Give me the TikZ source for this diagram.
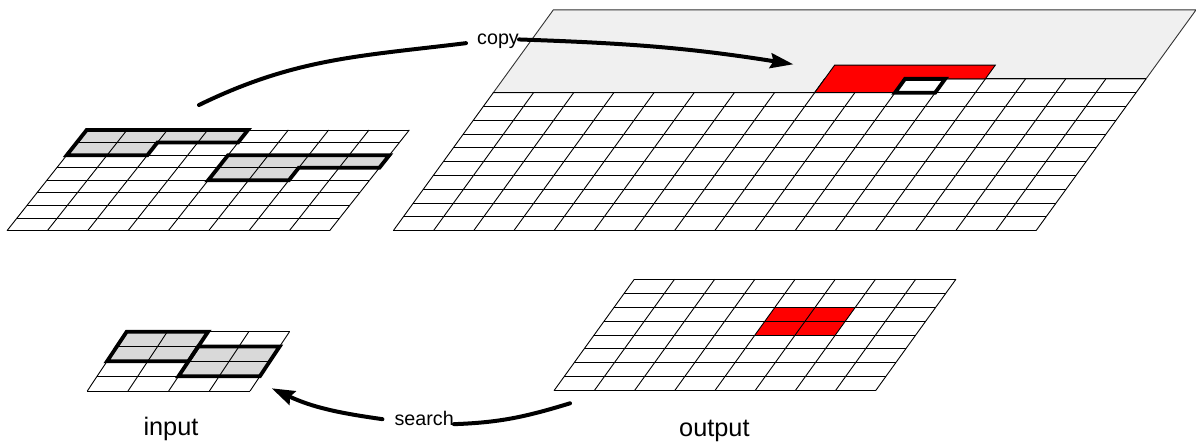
\documentclass[tikz,border=0pt]{standalone}
\usepackage{fontspec}
\setmainfont{Liberation Sans}
\usetikzlibrary{arrows.meta}
\definecolor{cellgray}{RGB}{217,217,217}
\definecolor{pending}{RGB}{240,240,240}
\definecolor{hot}{RGB}{255,0,0}
\tikzset{
  gridline/.style={line width=0.9pt},
  outline/.style={line width=3.8pt, line join=miter},
  flowline/.style={line width=4pt, line cap=round},
  flow/.style={flowline, -{Stealth[length=23pt,width=15pt,inset=3pt]}},
  small/.style={font=\fontsize{19.7}{23}\selectfont, inner sep=0pt},
  big/.style={font=\fontsize{25.3}{30}\selectfont, inner sep=0pt},
}
\begin{document}
\begin{tikzpicture}[x=1pt,y=1pt]
\useasboundingbox (0,0) rectangle (1196,-443);

% enlarged input texture, 8x8 cells, with two neighbourhoods
\begin{scope}[shift={(7,-230.7)}, x={(40.33pt,0pt)}, y={(9.96pt,12.59pt)}]
  \fill[cellgray] (0,8) -- (4,8) -- (4,7) -- (2,7) -- (2,6) -- (0,6) -- cycle;
  \fill[cellgray] (4,6) -- (8,6) -- (8,5) -- (6,5) -- (6,4) -- (4,4) -- cycle;
  \foreach \k in {0,...,8} \draw[gridline] (0,\k) -- (8,\k);
  \foreach \c in {0,...,8} \draw[gridline] (\c,0) -- (\c,8);
  \draw[outline] (0,8) -- (4,8) -- (4,7) -- (2,7) -- (2,6) -- (0,6) -- cycle;
  \draw[outline] (4,6) -- (8,6) -- (8,5) -- (6,5) -- (6,4) -- (4,4) -- cycle;
\end{scope}

% output being synthesised: 16 columns, filled rows plus the current row
\begin{scope}[shift={(393.3,-230.7)}, x={(40.17pt,0pt)}, y={(10pt,13.8pt)}]
  \filldraw[fill=pending, draw=black!80, line width=0.9pt]
    (0,16) -- (16,16) -- (16,11) -- (8,11) -- (8,10) -- (0,10) -- cycle;
  \foreach \k in {0,...,10} \draw[gridline] (0,\k) -- (16,\k);
  \foreach \c in {0,...,16} \draw[gridline] (\c,0) -- (\c,10);
  \draw[gridline] (8,11) -- (16,11);
  \foreach \c in {8,...,16} \draw[gridline] (\c,10) -- (\c,11);
  \filldraw[fill=hot, draw=black, line width=0.9pt]
    (8,12) -- (12,12) -- (12,11) -- (10,11) -- (10,10) -- (8,10) -- cycle;
  \filldraw[fill=white, outline] (10,10) -- (11,10) -- (11,11) -- (10,11) -- cycle;
\end{scope}

% small input texture, 4x4 cells
\begin{scope}[shift={(87.3,-391)}, x={(40.7pt,0pt)}, y={(9.85pt,14.83pt)}]
  \fill[cellgray] (0,2) -- (2,2) -- (2,4) -- (0,4) -- cycle;
  \fill[cellgray] (2,1) -- (4,1) -- (4,3) -- (2,3) -- cycle;
  \foreach \k in {0,...,4} \draw[gridline] (0,\k) -- (4,\k);
  \foreach \c in {0,...,4} \draw[gridline] (\c,0) -- (\c,4);
  \draw[outline] (0,2) -- (2,2) -- (2,4) -- (0,4) -- cycle;
  \draw[outline] (2,1) -- (4,1) -- (4,3) -- (2,3) -- cycle;
\end{scope}

% small output texture, 8x8 cells
\begin{scope}[shift={(554,-390.7)}, x={(40.2pt,0pt)}, y={(10.04pt,13.93pt)}]
  \fill[hot] (4,4) -- (6,4) -- (6,6) -- (4,6) -- cycle;
  \foreach \k in {0,...,8} \draw[gridline] (0,\k) -- (8,\k);
  \foreach \c in {0,...,8} \draw[gridline] (\c,0) -- (\c,8);
\end{scope}

% captions
\node[big, anchor=base west] (input) at (143.3,-435.7) {input};
\node[big, anchor=base west] (output) at (679,-436) {output};

% copy arrow
\coordinate (copyfrom) at (199,-105);
\coordinate (copyto) at (793.3,-64.3);
\node[small, anchor=base west] (copy) at (477,-44.3) {copy};
\draw[flowline] (copyfrom) to[out=26,in=187] ([xshift=-11pt,yshift=-1.5pt]copy.mid west);
\draw[flow] ([yshift=2.2pt]copy.mid east) to[out=-2,in=171] (copyto);

% search arrow
\coordinate (searchfrom) at (570,-403.3);
\coordinate (searchto) at (271.7,-388.3);
\node[small, anchor=base west] (search) at (394.4,-425) {search};
\draw[flowline] (searchfrom) to[out=197,in=2] ([yshift=-1.8pt]search.mid east);
\draw[flow] ([xshift=-12pt,yshift=3.2pt]search.mid west) to[out=172,in=-25] (searchto);
\end{tikzpicture}
\end{document}
